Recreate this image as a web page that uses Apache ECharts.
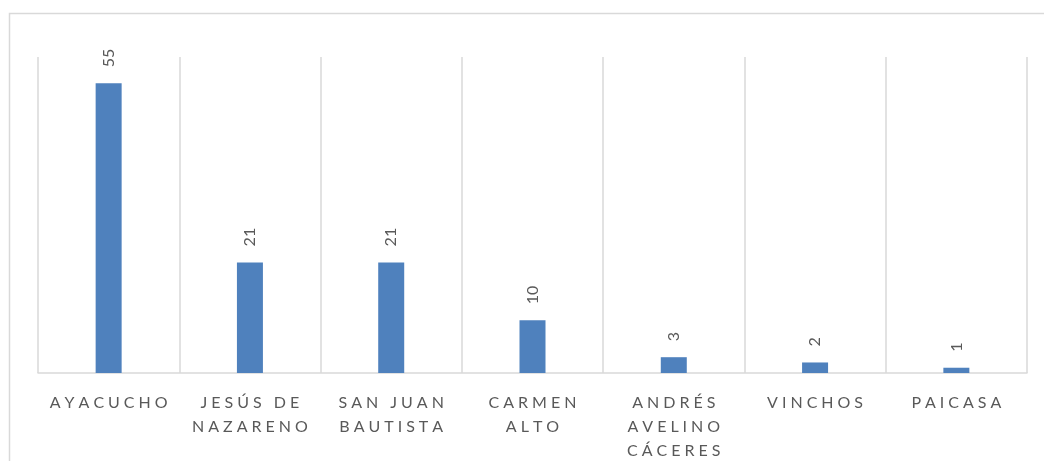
<!DOCTYPE html>
<html>
<head>
<meta charset="utf-8">
<script src="https://cdn.jsdelivr.net/npm/echarts@6/dist/echarts.min.js"></script>
<style>
  html, body { margin: 0; padding: 0; background: #fff; }
  #chart { width: 1044px; height: 461px; }
</style>
</head>
<body>
<div id="chart"></div>
<script>
// categorias y valores
var categorias = ['AYACUCHO', 'JESÚS DE\nNAZARENO', 'SAN JUAN\nBAUTISTA', 'CARMEN\nALTO', 'ANDRÉS\nAVELINO\nCÁCERES', 'VINCHOS', 'PAICASA']
var valores = [55, 21, 21, 10, 3, 2, 1]

var gris = '#d9d9d9'
var texto = '#595959'

// espaciado entre letras
function espaciar(s) {
  return s.split('\n').map(function (linea) {
    return linea.split('').join('\u2005')
  }).join('\n')
}

var myChart = echarts.init(document.getElementById('chart'))
var option = {
  animation: false,
  backgroundColor: '#fff',
  textStyle: { fontFamily: 'Lato, "Noto Sans", sans-serif' },
  graphic: [
    {
      type: 'rect',
      shape: { x: 9.5, y: 13.5, width: 1100, height: 600 },
      style: { fill: 'none', stroke: gris, lineWidth: 1.5 },
      silent: true
    }
  ],
  grid: {
    left: 38,
    right: 17,
    top: 57,
    bottom: 88,
    outerBoundsMode: 'none'
  },
  xAxis: {
    type: 'category',
    data: categorias,
    boundaryGap: true,
    axisLine: { lineStyle: { color: gris, width: 1.5 } },
    axisTick: { show: false },
    splitLine: { show: true, lineStyle: { color: gris, width: 1.5 } },
    axisLabel: {
      interval: 0,
      color: texto,
      fontSize: 16,
      lineHeight: 24,
      margin: 18,
      formatter: function (v) { return espaciar(v) }
    }
  },
  yAxis: {
    type: 'value',
    min: 0,
    max: 60,
    axisLine: { show: false },
    axisTick: { show: false },
    axisLabel: { show: false },
    splitLine: { show: false }
  },
  series: [
    {
      type: 'bar',
      data: valores,
      barWidth: 26,
      itemStyle: { color: '#4f81bd' },
      label: {
        show: true,
        position: 'top',
        rotate: 90,
        align: 'left',
        verticalAlign: 'middle',
        distance: 16,
        color: texto,
        fontSize: 16
      }
    }
  ]
}
myChart.setOption(option)
</script>
</body>
</html>
